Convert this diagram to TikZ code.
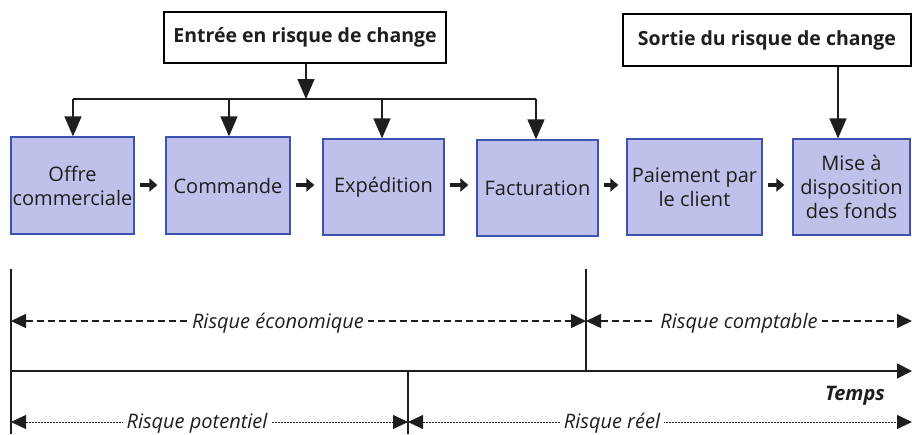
\documentclass[tikz,border=0pt]{standalone}
\usepackage{fontspec}
\setmainfont{Open Sans}
\usetikzlibrary{arrows.meta,calc}
\definecolor{boxfill}{HTML}{C0C1EA}
\definecolor{boxline}{HTML}{3F51B0}
\definecolor{ink}{HTML}{1E1E1E}
\tikzset{
  stepbox/.style={draw=boxline, line width=1.3pt, fill=boxfill, text=ink, align=center,
    inner sep=0pt, font=\fontsize{20}{24}\selectfont},
  headbox/.style={draw=black, line width=1.5pt, fill=white, text=ink, align=center,
    inner sep=0pt, font=\fontsize{19.5}{24}\selectfont\bfseries},
  downarr/.style={line width=1.5pt, draw=ink, -{Triangle[length=20pt,width=17pt]}},
  flowarr/.style={line width=4pt, draw=ink, -{Triangle[length=8pt,width=13pt]}, shorten <=5pt, shorten >=8pt},
  axis/.style={line width=1.8pt, draw=ink},
  dimarr/.style={line width=1.2pt, draw=ink, {Triangle[length=15pt,width=14pt]}-{Triangle[length=15pt,width=14pt]}},
  dashline/.style={line width=1.5pt, dash pattern=on 7pt off 4pt},
  dotline/.style={line width=0.8pt, dash pattern=on 2pt off 1pt},
  risklabel/.style={fill=white, inner sep=4pt, text=ink, font=\fontsize{20}{24}\selectfont\itshape},
}
\begin{document}
\begin{tikzpicture}[x=1pt,y=-1pt]
\useasboundingbox (0,0) rectangle (912,434);
% header boxes
\node[headbox, minimum width=282pt, minimum height=51pt] (entree) at (305,37.5) {Entrée en risque de change};
\node[headbox, minimum width=288pt, minimum height=52pt] (sortie) at (767,40) {Sortie du risque de change};
% step boxes
\node[stepbox, minimum width=123pt, minimum height=97pt] (offre) at (72.5,185.5) {Offre\\commerciale};
\node[stepbox, minimum width=124pt, minimum height=97pt] (commande) at (228,185.5) {Commande};
\node[stepbox, minimum width=121pt, minimum height=96pt] (exped) at (383.5,187) {Expédition};
\node[stepbox, minimum width=121pt, minimum height=96pt] (factu) at (537.5,188) {Facturation};
\node[stepbox, minimum width=135pt, minimum height=96pt] (paie) at (694.5,187) {Paiement par\\le client};
\node[stepbox, minimum width=117pt, minimum height=96pt] (mise) at (851.5,187) {Mise à\\disposition\\des fonds};
% bus from entree
\coordinate (bus) at (306,99);
\coordinate (busL) at (73,99);
\coordinate (busR) at (536,99);
\draw[downarr] (entree.south -| bus) -- (bus);
\draw[line width=1.5pt, draw=ink] (busL) -- (busR);
\draw[downarr] (busL) -- (busL |- offre.north);
\draw[downarr] (bus -| 229,0) -- (229,0 |- commande.north);
\draw[downarr] (bus -| 382,0) -- (382,0 |- exped.north);
\draw[downarr] (busR) -- (busR |- factu.north);
% sortie arrow
\coordinate (sortA) at (838,66);
\draw[downarr] (sortie.south -| sortA) -- (sortA |- mise.north);
% flow arrows
\draw[flowarr] (offre.east |- 0,185) -- (commande.west |- 0,185);
\draw[flowarr] (commande.east |- 0,185) -- (exped.west |- 0,185);
\draw[flowarr] (exped.east |- 0,185) -- (factu.west |- 0,185);
\draw[flowarr] (factu.east |- 0,185) -- (paie.west |- 0,185);
\draw[flowarr] (paie.east |- 0,185) -- (mise.west |- 0,185);
% timeline
\coordinate (t0) at (11,269);
\coordinate (t0b) at (11,434);
\coordinate (tc) at (586,269);
\coordinate (tcb) at (586,371);
\coordinate (ax0) at (11,371);
\coordinate (ax1) at (912,371);
\coordinate (tp) at (408,371);
\coordinate (tpb) at (408,434);
\draw[axis] (t0) -- (t0b);
\draw[axis] (tc) -- (tcb);
\draw[line width=1.2pt, draw=ink] (tp) -- (tpb);
\draw[axis, -{Triangle[length=15pt,width=15pt]}] (ax0) -- (ax1);
\node[text=ink, font=\fontsize{20}{24}\selectfont\bfseries\itshape] (temps) at (855,396) {Temps};
% risk spans
\coordinate (eL) at (11,321);
\coordinate (eM) at (586,321);
\coordinate (eR) at (912,321);
\coordinate (pL) at (11,422);
\coordinate (pM) at (408,422);
\coordinate (pR) at (912,422);
\draw[dimarr, dashline] (eL) -- (eM);
\draw[dimarr, dashline] (eM) -- (eR);
\draw[dimarr, dotline] (pL) -- (pM);
\draw[dimarr, dotline] (pM) -- (pR);
\node[risklabel] (eco) at (278,323) {Risque économique};
\node[risklabel] (compt) at (739,323) {Risque comptable};
\node[risklabel] (pot) at (197,423) {Risque potentiel};
\node[risklabel] (reel) at (612,423) {Risque réel};
\end{tikzpicture}
\end{document}
